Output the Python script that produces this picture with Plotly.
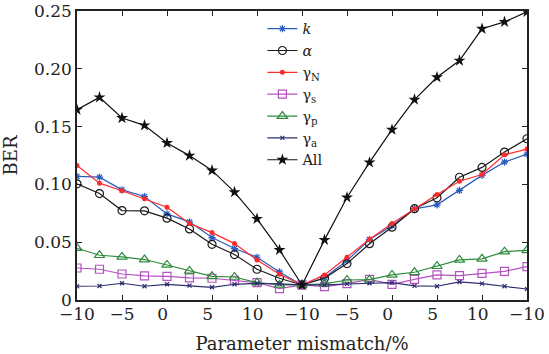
import plotly.graph_objects as go

# point index along the x axis (21 settings, two sweeps of the mismatch)
x_index = list(range(21))
tick_positions = [0, 2, 4, 6, 8, 10, 12, 14, 16, 18, 20]
tick_labels = ["\u221210", "\u22125", "0\u2002", "5\u2002", "10\u2002", "\u221210",
               "\u22125", "0\u2002", "5\u2002", "10\u2002", "\u221210"]

ber_k = [0.1069, 0.1063, 0.0953, 0.0895, 0.0745, 0.0676, 0.0540, 0.0445, 0.0370, 0.0243,
         0.0130, 0.0194, 0.0340, 0.0523, 0.0643, 0.0789, 0.0823, 0.0948, 0.1078, 0.1193, 0.1262]
ber_alpha = [0.1005, 0.0921, 0.0774, 0.0771, 0.0708, 0.0615, 0.0482, 0.0393, 0.0266, 0.0188,
             0.0130, 0.0188, 0.0315, 0.0487, 0.0630, 0.0790, 0.0884, 0.1062, 0.1147, 0.1280, 0.1395]
ber_gN = [0.1164, 0.1011, 0.0945, 0.0875, 0.0803, 0.0662, 0.0583, 0.0488, 0.0347, 0.0223,
          0.0130, 0.0217, 0.0370, 0.0525, 0.0662, 0.0790, 0.0913, 0.1027, 0.1085, 0.1256, 0.1306]
ber_gs = [0.0277, 0.0266, 0.0225, 0.0208, 0.0205, 0.0192, 0.0188, 0.0171, 0.0150, 0.0099,
          0.0130, 0.0116, 0.0142, 0.0179, 0.0135, 0.0179, 0.0217, 0.0211, 0.0231, 0.0248, 0.0289]
ber_gp = [0.0448, 0.0387, 0.0373, 0.0350, 0.0303, 0.0252, 0.0205, 0.0199, 0.0150, 0.0130,
          0.0130, 0.0140, 0.0173, 0.0176, 0.0217, 0.0240, 0.0292, 0.0347, 0.0356, 0.0418, 0.0430]
ber_ga = [0.0119, 0.0121, 0.0145, 0.0119, 0.0136, 0.0124, 0.0110, 0.0136, 0.0145, 0.0139,
          0.0130, 0.0130, 0.0139, 0.0145, 0.0150, 0.0122, 0.0119, 0.0156, 0.0141, 0.0119, 0.0095]
ber_all = [0.1646, 0.1753, 0.1574, 0.1511, 0.1358, 0.1249, 0.1121, 0.0933, 0.0702, 0.0433,
           0.0130, 0.0520, 0.0887, 0.1190, 0.1473, 0.1733, 0.1927, 0.2071, 0.2346, 0.2406, 0.2493]

y_ticks = [0, 0.05, 0.10, 0.15, 0.20, 0.25]
y_tick_labels = ["0", "0.05", "0.10", "0.15", "0.20", "0.25"]

FONT = "DejaVu Serif"

series = [
    ("<i>k</i>", ber_k, "#2a5cbf", dict(symbol="asterisk-open", size=6, line=dict(width=1.2, color="#2a5cbf"))),
    ("<i>α</i>", ber_alpha, "#1a1a1a", dict(symbol="circle-open", size=8, line=dict(width=1.2, color="#1a1a1a"))),
    ("γ<sub>N</sub>", ber_gN, "#ff2a2a", dict(symbol="circle", size=5, color="#ff2a2a")),
    ("γ<sub>s</sub>", ber_gs, "#b452c0", dict(symbol="square-open", size=8, line=dict(width=1.2, color="#b452c0"))),
    ("γ<sub>p</sub>", ber_gp, "#2e8b3c", dict(symbol="triangle-up-open", size=9, line=dict(width=1.2, color="#2e8b3c"))),
    ("γ<sub>a</sub>", ber_ga, "#2d2d70", dict(symbol="x-thin-open", size=4, line=dict(width=1.2, color="#2d2d70"))),
    ("All", ber_all, "#111111", dict(symbol="star", size=9, color="#111111")),
]

fig = go.Figure()
for name, vals, col, mk in series:
    fig.add_trace(go.Scatter(x=x_index, y=vals, name=name, mode="lines+markers",
                             line=dict(color=col, width=1.2), marker=mk))

fig.update_layout(
    width=549, height=354,
    margin=dict(l=77, r=22, t=11, b=54, autoexpand=False),
    paper_bgcolor="white", plot_bgcolor="white",
    font=dict(family=FONT, size=17, color="#222"),
    showlegend=True,
    legend=dict(x=0.412, y=0.994, xanchor="left", yanchor="top",
                bgcolor="rgba(0,0,0,0)", borderwidth=0, itemwidth=30,
                font=dict(family=FONT, size=14.5, color="#222")),
)
fig.update_xaxes(range=[0, 20], tickmode="array", tickvals=tick_positions, ticktext=tick_labels,
                 showgrid=False, zeroline=False, showline=True, linecolor="#222", linewidth=1.5,
                 mirror="ticks", ticks="inside", ticklen=5, tickcolor="#222", automargin=False,
                 ticklabelstandoff=-2,
                 title=dict(text="Parameter mismatch/%", font=dict(size=18)))
fig.update_yaxes(range=[0, 0.25], tickmode="array", tickvals=y_ticks, ticktext=y_tick_labels,
                 showgrid=False, zeroline=False, showline=True, linecolor="#222", linewidth=1.5,
                 mirror="ticks", ticks="inside", ticklen=5, tickcolor="#222", automargin=False,
                 title=dict(text="BER", font=dict(size=18)))

fig.write_html("out.html", config={"displayModeBar": False},
               post_script="document.body.style.margin='0';")
